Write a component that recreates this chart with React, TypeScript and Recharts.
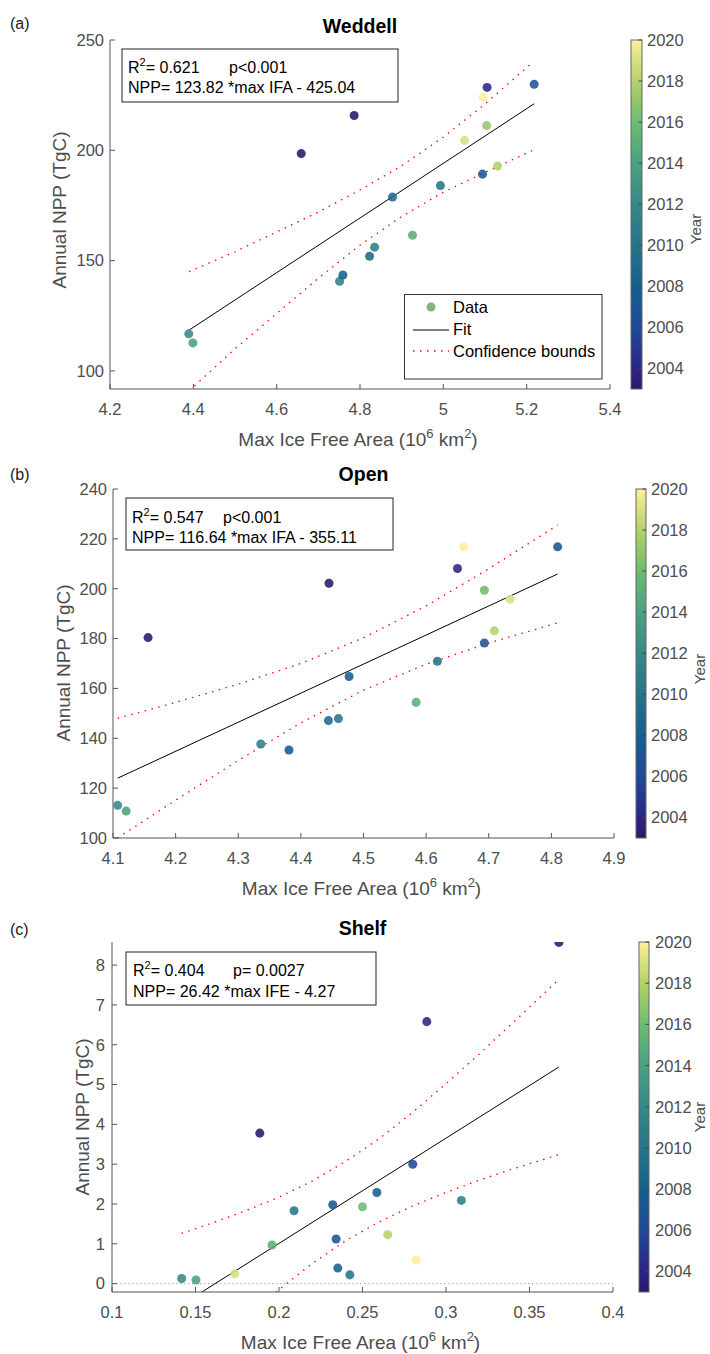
import React from 'react';
import { ComposedChart, XAxis, YAxis, Line, Scatter, Cell, ReferenceLine } from 'recharts';

// ---------- (a) Weddell ----------
const weddellArea = [4.389, 4.399, 4.659, 4.786, 4.751, 4.759, 4.823, 4.835, 4.878, 4.926, 4.993, 5.051, 5.094, 5.095, 5.105, 5.104, 5.13, 5.218];
const weddellNpp = [116.8, 112.7, 198.5, 215.8, 140.6, 143.5, 152.0, 156.1, 178.8, 161.5, 184.0, 204.4, 189.2, 224.1, 228.5, 211.2, 192.9, 229.9];
const weddellYear = [2012, 2014, 2003, 2003, 2011, 2008, 2009, 2011, 2009, 2015, 2010, 2019, 2007, 2020, 2004, 2017, 2018, 2007];
const weddellFitX = [4.389, 5.218];
const weddellFitY = [118.4, 221.1];
const weddellBoundX = [4.39, 4.5, 4.6, 4.7, 4.8, 4.9, 5.0, 5.1, 5.215];
const weddellUpper = [145, 154, 163, 172, 182, 193, 206, 221, 240];
const weddellLower = [91, 110, 126, 142, 157, 170, 181, 190, 200];
const weddellXTicks = [4.2, 4.4, 4.6, 4.8, 5, 5.2, 5.4];
const weddellYTicks = [100, 150, 200, 250];

// ---------- (b) Open ----------
const openArea = [4.1075, 4.121, 4.336, 4.381, 4.444, 4.46, 4.477, 4.156, 4.445, 4.584, 4.618, 4.65, 4.66, 4.693, 4.693, 4.709, 4.734, 4.81];
const openNpp = [113.1, 110.8, 137.7, 135.3, 147.1, 147.9, 164.8, 180.4, 202.2, 154.4, 170.9, 208.1, 216.8, 199.4, 178.2, 183.1, 195.8, 216.8];
const openYear = [2012, 2014, 2011, 2007, 2009, 2010, 2008, 2003, 2003, 2015, 2010, 2004, 2020, 2016, 2007, 2018, 2019, 2007];
const openFitX = [4.1075, 4.81];
const openFitY = [124.0, 205.9];
const openBoundX = [4.1075, 4.2, 4.3, 4.4, 4.5, 4.6, 4.7, 4.81];
const openUpper = [148.0, 154.4, 161.7, 170.0, 180.3, 193.1, 208.0, 225.5];
const openLower = [100.0, 115.2, 131.1, 146.2, 159.3, 169.7, 178.2, 186.3];
const openXTicks = [4.1, 4.2, 4.3, 4.4, 4.5, 4.6, 4.7, 4.8, 4.9];
const openYTicks = [100, 120, 140, 160, 180, 200, 220, 240];

// ---------- (c) Shelf ----------
const shelfArea = [0.1417, 0.1503, 0.1735, 0.1885, 0.1958, 0.209, 0.2322, 0.2342, 0.2352, 0.2424, 0.25, 0.2586, 0.2651, 0.2801, 0.2821, 0.2885, 0.3092, 0.3676];
const shelfNpp = [0.13, 0.09, 0.25, 3.78, 0.97, 1.83, 1.98, 1.12, 0.39, 0.22, 1.93, 2.29, 1.23, 3.0, 0.59, 6.58, 2.09, 8.57];
const shelfYear = [2012, 2014, 2019, 2003, 2015, 2010, 2007, 2007, 2008, 2010, 2016, 2008, 2018, 2006, 2020, 2004, 2011, 2003];
const shelfFitX = [0.1417, 0.3676];
const shelfFitY = [-0.53, 5.44];
const shelfBoundX = [0.1417, 0.16, 0.18, 0.2, 0.22, 0.24, 0.26, 0.28, 0.3, 0.32, 0.34, 0.3676];
const shelfUpper = [1.26, 1.52, 1.83, 2.17, 2.58, 3.07, 3.64, 4.3, 5.02, 5.77, 6.55, 7.64];
const shelfLower = [-2.32, -1.61, -0.86, -0.15, 0.51, 1.08, 1.55, 1.95, 2.29, 2.6, 2.88, 3.24];
const shelfXTicks = [0.1, 0.15, 0.2, 0.25, 0.3, 0.35, 0.4];
const shelfYTicks = [0, 1, 2, 3, 4, 5, 6, 7, 8];

// colorbar
const yearMin = 2003;
const yearMax = 2020;
const colorbarTicks = [2004, 2006, 2008, 2010, 2012, 2014, 2016, 2018, 2020];

const FONT = '"Liberation Sans", Arial, Helvetica, sans-serif';
const AXIS = '#555555';
const TXT = '#4d4d4d';

// haline-like colormap
const cmap: [number, string][] = [
    [0.0, '#2a186c'],
    [0.06, '#2c2585'],
    [0.18, '#1f4a99'],
    [0.29, '#155f8e'],
    [0.41, '#26748a'],
    [0.53, '#368987'],
    [0.65, '#4ba281'],
    [0.76, '#6cba72'],
    [0.88, '#b2d169'],
    [1.0, '#fdef9a'],
];

const hexRgb = (h: string) => [1, 3, 5].map(i => parseInt(h.slice(i, i + 2), 16));

function yearColor(year: number) {
    const t = Math.max(0, Math.min(1, (year - yearMin) / (yearMax - yearMin)));
    for (let i = 1; i < cmap.length; i++) {
        if (t <= cmap[i][0]) {
            const [t0, c0] = cmap[i - 1];
            const [t1, c1] = cmap[i];
            const f = (t - t0) / (t1 - t0);
            const a = hexRgb(c0);
            const b = hexRgb(c1);
            const c = a.map((v, k) => Math.round(v + (b[k] - v) * f));
            return `rgb(${c[0]},${c[1]},${c[2]})`;
        }
    }
    return cmap[cmap.length - 1][1];
}

interface Box { left: number; top: number; right: number; bottom: number; }

interface PanelCfg {
    letter: string;
    title: string;
    area: number[]; npp: number[]; year: number[];
    fitX: number[]; fitY: number[];
    boundX: number[]; upper: number[]; lower: number[];
    xTicks: number[]; yTicks: number[];
    xDomain: [number, number]; yDomain: [number, number];
    r2: string; p: string; eq: string;
    plot: Box;
    chartTop: number; chartH: number;
    yTickGap: number;
    zeroLine?: boolean;
    letterY: number; titleY: number; xLabelY: number;
    yLabelX: number; yLabelY: number;
    statBox: Box; statX: number; pX: number; line1Y: number; line2Y: number;
    cbLeft: number; cbRight: number; cbLabelX: number; yearX: number; yearY: number;
}

const panels: PanelCfg[] = [
    {
        letter: '(a)', title: 'Weddell',
        area: weddellArea, npp: weddellNpp, year: weddellYear,
        fitX: weddellFitX, fitY: weddellFitY,
        boundX: weddellBoundX, upper: weddellUpper, lower: weddellLower,
        xTicks: weddellXTicks, yTicks: weddellYTicks,
        xDomain: [4.2, 5.4], yDomain: [91.8, 250],
        r2: '0.621', p: 'p<0.001', eq: 'NPP= 123.82 *max IFA - 425.04',
        plot: { left: 110, top: 40, right: 610, bottom: 389 },
        chartTop: 0, chartH: 460, yTickGap: 6,
        letterY: 29, titleY: 33, xLabelY: 446, yLabelX: 66, yLabelY: 210,
        statBox: { left: 122, top: 49, right: 398, bottom: 102 }, statX: 128, pX: 229, line1Y: 73, line2Y: 93,
        cbLeft: 631, cbRight: 642, cbLabelX: 647, yearX: 701, yearY: 229,
    },
    {
        letter: '(b)', title: 'Open',
        area: openArea, npp: openNpp, year: openYear,
        fitX: openFitX, fitY: openFitY,
        boundX: openBoundX, upper: openUpper, lower: openLower,
        xTicks: openXTicks, yTicks: openYTicks,
        xDomain: [4.1, 4.9], yDomain: [100, 240],
        r2: '0.547', p: 'p<0.001', eq: 'NPP= 116.64 *max IFA - 355.11',
        plot: { left: 113, top: 489, right: 614, bottom: 838 },
        chartTop: 450, chartH: 460, yTickGap: 6,
        letterY: 480, titleY: 481, xLabelY: 895, yLabelX: 70, yLabelY: 663,
        statBox: { left: 126, top: 498, right: 393, bottom: 550 }, statX: 132, pX: 223, line1Y: 523, line2Y: 543,
        cbLeft: 636, cbRight: 646, cbLabelX: 651, yearX: 705, yearY: 669,
    },
    {
        letter: '(c)', title: 'Shelf',
        area: shelfArea, npp: shelfNpp, year: shelfYear,
        fitX: shelfFitX, fitY: shelfFitY,
        boundX: shelfBoundX, upper: shelfUpper, lower: shelfLower,
        xTicks: shelfXTicks, yTicks: shelfYTicks,
        xDomain: [0.1, 0.4], yDomain: [-0.21, 8.58],
        r2: '0.404', p: 'p= 0.0027', eq: 'NPP= 26.42 *max IFE - 4.27',
        plot: { left: 112, top: 942, right: 613, bottom: 1292 },
        chartTop: 900, chartH: 454, yTickGap: 7, zeroLine: true,
        letterY: 935, titleY: 935, xLabelY: 1349, yLabelX: 89, yLabelY: 1117,
        statBox: { left: 126, top: 952, right: 376, bottom: 1005 }, statX: 133, pX: 233, line1Y: 976, line2Y: 997,
        cbLeft: 639, cbRight: 649, cbLabelX: 655, yearX: 705, yearY: 1117,
    },
];

const X_AXIS_H = 30;

function PanelChart({ cfg }: { cfg: PanelCfg }) {
    const { plot } = cfg;
    const margin = {
        top: plot.top - cfg.chartTop,
        left: 0,
        right: 710 - plot.right,
        bottom: cfg.chartTop + cfg.chartH - plot.bottom - X_AXIS_H,
    };
    const points = cfg.area.map((x, i) => ({ x, y: cfg.npp[i], year: cfg.year[i] }));
    const fit = cfg.fitX.map((x, i) => ({ x, y: cfg.fitY[i] }));
    const upper = cfg.boundX.map((x, i) => ({ x, y: cfg.upper[i] }));
    const lower = cfg.boundX.map((x, i) => ({ x, y: cfg.lower[i] }));
    const tickStyle = { fontSize: 16.5, fill: TXT, fontFamily: FONT };
    const blank = () => '';

    return (
        <div style={{ position: 'absolute', left: 0, top: cfg.chartTop }}>
            <ComposedChart width={710} height={cfg.chartH} margin={margin}>
                <XAxis dataKey="x" type="number" domain={cfg.xDomain} ticks={cfg.xTicks} allowDataOverflow
                    height={X_AXIS_H} tickSize={-5} tickMargin={19} tick={tickStyle} stroke={AXIS} interval={0} />
                <XAxis xAxisId="top" orientation="top" dataKey="x" type="number" domain={cfg.xDomain} ticks={cfg.xTicks}
                    allowDataOverflow height={0} tickSize={-5} tickFormatter={blank} stroke={AXIS} interval={0} />
                <YAxis dataKey="y" type="number" domain={cfg.yDomain} ticks={cfg.yTicks} allowDataOverflow
                    width={plot.left} tickSize={-5} tickMargin={cfg.yTickGap + 5} tick={tickStyle} stroke={AXIS} interval={0} />
                <YAxis yAxisId="right" orientation="right" dataKey="y" type="number" domain={cfg.yDomain} ticks={cfg.yTicks}
                    allowDataOverflow width={0} tickSize={-5} tickFormatter={blank} stroke={AXIS} interval={0} />
                {cfg.zeroLine && <ReferenceLine y={0} stroke="#a8a8a8" strokeDasharray="1.5 2.5" strokeWidth={1} />}
                <Line data={upper} dataKey="y" type="linear" stroke="#ff0000" strokeWidth={1.3}
                    strokeDasharray="1.5 5.5" dot={false} activeDot={false} isAnimationActive={false} />
                <Line data={lower} dataKey="y" type="linear" stroke="#ff0000" strokeWidth={1.3}
                    strokeDasharray="1.5 5.5" dot={false} activeDot={false} isAnimationActive={false} />
                <Line data={fit} dataKey="y" type="linear" stroke="#000000" strokeWidth={1}
                    dot={false} activeDot={false} isAnimationActive={false} />
                <Scatter data={points} fillOpacity={0.88} isAnimationActive={false}>
                    {points.map((p, i) => <Cell key={i} fill={yearColor(p.year)} />)}
                </Scatter>
            </ComposedChart>
        </div>
    );
}

function Overlay({ cfg }: { cfg: PanelCfg }) {
    const { plot } = cfg;
    const cx = (plot.left + plot.right) / 2;
    const cbH = plot.bottom - plot.top;
    const yearPos = (y: number) => plot.bottom - ((y - yearMin) / (yearMax - yearMin)) * cbH;
    return (
        <g>
            <text x={10} y={cfg.letterY} fontSize={16} fill="#1a1a1a">{cfg.letter}</text>
            <text x={cx} y={cfg.titleY} fontSize={19.5} fontWeight="bold" fill="#000" textAnchor="middle">{cfg.title}</text>
            <text x={cx - 2} y={cfg.xLabelY} fontSize={19} fill={TXT} textAnchor="middle">
                Max Ice Free Area (10<tspan dy={-8} fontSize={13}>6</tspan>
                <tspan dy={8}> km</tspan><tspan dy={-8} fontSize={13}>2</tspan><tspan dy={8}>)</tspan>
            </text>
            <text transform={`translate(${cfg.yLabelX},${cfg.yLabelY}) rotate(-90)`} fontSize={19} fill={TXT} textAnchor="middle">
                Annual NPP (TgC)
            </text>

            {/* stats box */}
            <rect x={cfg.statBox.left} y={cfg.statBox.top} width={cfg.statBox.right - cfg.statBox.left}
                height={cfg.statBox.bottom - cfg.statBox.top} fill="#fff" stroke="#222" strokeWidth={1} />
            <text x={cfg.statX} y={cfg.line1Y} fontSize={16} fill="#000">
                R<tspan dy={-7} fontSize={11}>2</tspan><tspan dy={7}>= {cfg.r2}</tspan>
            </text>
            <text x={cfg.pX} y={cfg.line1Y} fontSize={16} fill="#000">{cfg.p}</text>
            <text x={cfg.statX} y={cfg.line2Y} fontSize={16} fill="#000">{cfg.eq}</text>

            {/* colorbar */}
            <rect x={cfg.cbLeft} y={plot.top} width={cfg.cbRight - cfg.cbLeft} height={cbH} fill="url(#haline)" stroke="#666" strokeWidth={1} />
            {colorbarTicks.map(t => (
                <g key={t}>
                    <line x1={cfg.cbRight - 3.5} x2={cfg.cbRight} y1={yearPos(t)} y2={yearPos(t)} stroke="#444" strokeWidth={1} />
                    <text x={cfg.cbLabelX} y={yearPos(t) + 6} fontSize={16.5} fill={TXT}>{t}</text>
                </g>
            ))}
            <text transform={`translate(${cfg.yearX},${cfg.yearY}) rotate(-90)`} fontSize={15} fill={TXT} textAnchor="middle">Year</text>
        </g>
    );
}

function Legend() {
    return (
        <g>
            <rect x={404.5} y={294.5} width={197.5} height={84.5} fill="#fff" stroke="#333" strokeWidth={1} />
            <circle cx={431} cy={307} r={4.5} fill="#87b280" />
            <text x={453} y={312.5} fontSize={16.5} fill="#000">Data</text>
            <line x1={413} x2={449} y1={330} y2={330} stroke="#000" strokeWidth={1} />
            <text x={453} y={334.5} fontSize={16.5} fill="#000">Fit</text>
            <line x1={413} x2={449} y1={351} y2={351} stroke="#ff0000" strokeWidth={1.3} strokeDasharray="1.5 5.5" />
            <text x={453} y={356.5} fontSize={16.5} fill="#000">Confidence bounds</text>
        </g>
    );
}

export default function App() {
    const stops = cmap.map(([t, c]) => <stop key={t} offset={`${t * 100}%`} stopColor={c} />);
    return (
        <div style={{ position: 'absolute', left: 0, top: 0, width: 710, height: 1354, background: '#fff', fontFamily: FONT, overflow: 'hidden' }}>
            {panels.map(p => <PanelChart key={p.letter} cfg={p} />)}
            <svg width={710} height={1354} style={{ position: 'absolute', left: 0, top: 0, pointerEvents: 'none', fontFamily: FONT }}>
                <defs>
                    <linearGradient id="haline" x1="0" y1="1" x2="0" y2="0">{stops}</linearGradient>
                </defs>
                {panels.map(p => <Overlay key={p.letter} cfg={p} />)}
                <Legend />
            </svg>
        </div>
    );
}
